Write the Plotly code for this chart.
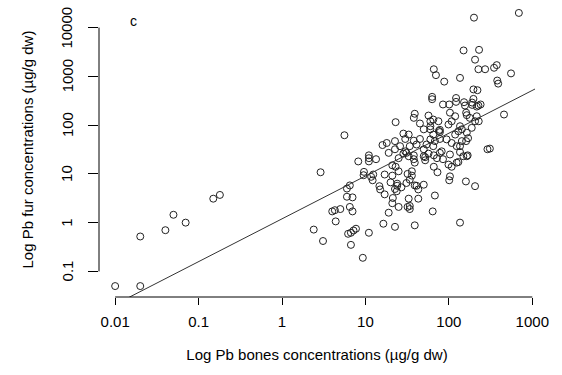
import numpy as np
import plotly.graph_objects as go

# Pb concentrations (µg/g dw)
bones = [0.01, 0.02, 0.02, 0.04, 0.05, 0.07, 0.15, 0.18, 2.9, 5.6,
         2.4, 3.1, 4.0, 4.3, 5.0, 6.5, 7.0, 4.4, 6.2, 6.7,
         7.2, 7.7, 6.7, 9.3, 11, 16.4, 19, 6.0, 7.0, 6.0,
         6.5, 8.2, 11, 11, 11, 13.4, 9.6, 9.5, 11.7, 12.2,
         17, 14.7, 15, 17, 16, 19, 136, 39, 22.6, 64,
         21, 25, 32, 34, 34, 43, 33, 68, 22.6, 23.7,
         20, 24, 31, 34, 36, 39, 43, 50, 21, 23,
         25, 39, 52, 66, 73, 99, 108, 124, 130, 103,
         101, 160, 206, 168, 38, 33, 28.5, 21, 88, 63,
         63, 122, 122, 85, 101, 156, 161, 103, 119, 57,
         39, 38, 23, 45, 65, 75, 78, 78, 76, 99,
         108, 136, 143, 130, 119, 164, 60, 50, 65, 60,
         68, 78, 94, 108, 124, 143, 136, 149, 45, 38,
         30, 28.5, 33, 22.6, 18, 26, 34, 41, 54, 65,
         50, 30, 31, 22.6, 38, 57, 82, 103, 72, 50,
         25, 690, 200, 150, 230, 206, 226, 272, 348, 375,
         556, 380, 390, 136, 66, 70, 197, 220, 197, 152,
         190, 226, 164, 178, 228, 458, 290, 310, 32, 36,
         27, 24, 41, 21.3, 52, 66, 78, 85, 164, 136,
         161, 170, 188, 206, 216, 216, 240, 190, 60, 60,
         12.4]
fur = [0.05, 0.05, 0.52, 0.7, 1.45, 1.0, 3.1, 3.7, 10.8, 62,
       0.72, 0.42, 1.7, 1.8, 1.9, 2.1, 1.7, 1.06, 0.59, 0.62,
       0.69, 0.75, 0.35, 0.19, 0.62, 0.95, 1.6, 3.4, 3.3, 5.0,
       5.8, 18, 24, 21, 18, 20, 11, 9.4, 8.7, 7.4,
       9.7, 5.6, 4.8, 3.8, 39, 27, 1.0, 0.88, 0.82, 1.7,
       2.5, 2.1, 2.1, 2.2, 1.9, 3.1, 3.1, 3.6, 4.9, 4.4,
       6.7, 6.3, 6.5, 7.6, 9.2, 5.8, 4.8, 6.0, 9.2, 14,
       11.3, 17, 19, 14, 10.8, 15.5, 14, 17, 17.5, 8.9,
       7.4, 7.0, 5.6, 24, 20, 23, 26, 15, 780, 380,
       340, 360, 300, 265, 265, 252, 180, 180, 152, 157,
       171, 141, 115, 108, 130, 120, 80, 72, 76, 103,
       120, 95, 82, 75, 64, 70, 95, 82, 64, 51,
       47, 52, 51, 43, 37, 47, 28, 23, 52, 48,
       52, 67, 64, 47, 43, 37, 37, 40, 40, 37,
       32, 29, 27, 32, 24, 26, 29, 25, 21, 23,
       21, 20000, 16000, 3400, 3500, 2200, 1400, 1400, 1500, 1700,
       1150, 820, 710, 930, 1400, 1060, 540, 520, 345, 295,
       260, 252, 160, 141, 120, 165, 32, 33, 10, 11.3,
       5.3, 5.7, 5.7, 3.2, 22, 24, 27, 20, 23, 37,
       47, 54, 88, 120, 152, 240, 265, 290, 120, 82,
       9.7]

# log10 regression line: log(fur) = fit_intercept + fit_slope * log(bones)
fit_slope = 0.878
fit_intercept = 0.078

x_ticks = [0.01, 0.1, 1, 10, 100, 1000]
x_ticklabels = ["0.01", "0.1", "1", "10", "100", "1000"]
y_ticks = [0.1, 1, 10, 100, 1000, 10000]
y_ticklabels = ["0.1", "1", "10", "100", "1000", "10000"]

def r_range(vals):
    lv = np.log10(vals)
    lo, hi = lv.min(), lv.max()
    pad = 0.04 * (hi - lo)
    return [lo - pad, hi + pad]

xr = r_range(bones)
yr = r_range(fur)

FONT = "Liberation Sans, Arial, sans-serif"

fig = go.Figure()
fig.add_trace(go.Scatter(
    x=bones, y=fur, mode="markers",
    marker=dict(symbol="circle-open", size=7, color="#222222", line=dict(width=1)),
    showlegend=False, hoverinfo="x+y"))

lx = np.array(xr)
fig.add_trace(go.Scatter(
    x=10 ** lx, y=10 ** (fit_intercept + fit_slope * lx), mode="lines",
    line=dict(color="#333333", width=1), showlegend=False, hoverinfo="skip"))

# y tick labels drawn parallel to the axis (R style)
annotations = [dict(text=lab, xref="paper", yref="y", x=0, y=np.log10(v), xshift=-32,
                    textangle=-90, showarrow=False, font=dict(size=15),
                    xanchor="center", yanchor="middle")
               for v, lab in zip(y_ticks, y_ticklabels)]
annotations.append(dict(text="Log Pb fur concentrations (µg/g dw)", xref="paper", yref="paper",
                        x=0, y=0.5, xshift=-72, textangle=-90, showarrow=False,
                        font=dict(size=15), xanchor="center", yanchor="middle"))
annotations.append(dict(text="c", xref="paper", yref="paper", x=0.078, y=0.935,
                        showarrow=False, font=dict(size=14), xanchor="center", yanchor="middle"))

fig.update_layout(
    width=562, height=375,
    margin=dict(l=99, r=27, t=2, b=78),
    paper_bgcolor="white", plot_bgcolor="white",
    font=dict(family=FONT, size=15, color="black"),
    xaxis=dict(type="log", range=xr, showgrid=False, zeroline=False, showline=False,
               tickvals=x_ticks, ticktext=x_ticklabels, ticks="outside", ticklen=7,
               tickwidth=1, tickcolor="black", ticklabelstandoff=4,
               title=dict(text="Log Pb bones concentrations (µg/g dw)", standoff=20,
                          font=dict(size=15))),
    yaxis=dict(type="log", range=yr, showgrid=False, zeroline=False, showline=False,
               tickvals=y_ticks, ticks="outside", ticklen=10, showticklabels=False,
               tickwidth=1, tickcolor="black"),
    shapes=[
        dict(type="line", xref="x", yref="paper",
             x0=x_ticks[0], x1=x_ticks[-1], y0=0, y1=0,
             line=dict(color="black", width=1)),
        dict(type="line", xref="paper", yref="y",
             x0=0, x1=0, y0=y_ticks[0], y1=y_ticks[-1],
             line=dict(color="black", width=1)),
    ],
    annotations=annotations,
)

fig.write_html("out.html")
